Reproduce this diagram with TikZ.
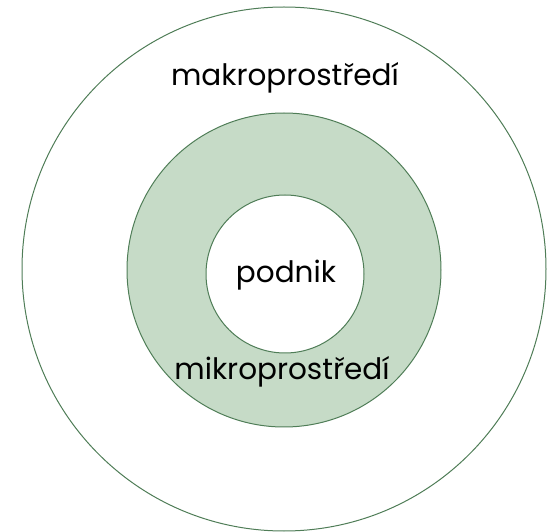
\documentclass[tikz,border=0pt]{standalone}
\usepackage{fontspec}
\setmainfont{Poppins}
\definecolor{ringline}{HTML}{4F7D57}
\definecolor{ringfill}{HTML}{C6DBC7}
\begin{document}
\begin{tikzpicture}[x=1pt,y=-1pt,font=\fontsize{29.5}{34}\selectfont]
\useasboundingbox (0,0) rectangle (550,532);
\draw [color=ringline, line width=1pt] (284,269) circle [radius = 262];
\draw [color=ringline, line width=1pt, fill=ringfill] (284,270) circle [radius = 157];
\draw [color=ringline, line width=1pt, fill=white] (285,274) circle [radius = 79];
\node (makro) [at = {(285,78)}] {makroprostředí};
\node (podnik) [at = {(286,275)}] {podnik};
\node (mikro) [at = {(282,372)}] {mikroprostředí};
\end{tikzpicture}
\end{document}
